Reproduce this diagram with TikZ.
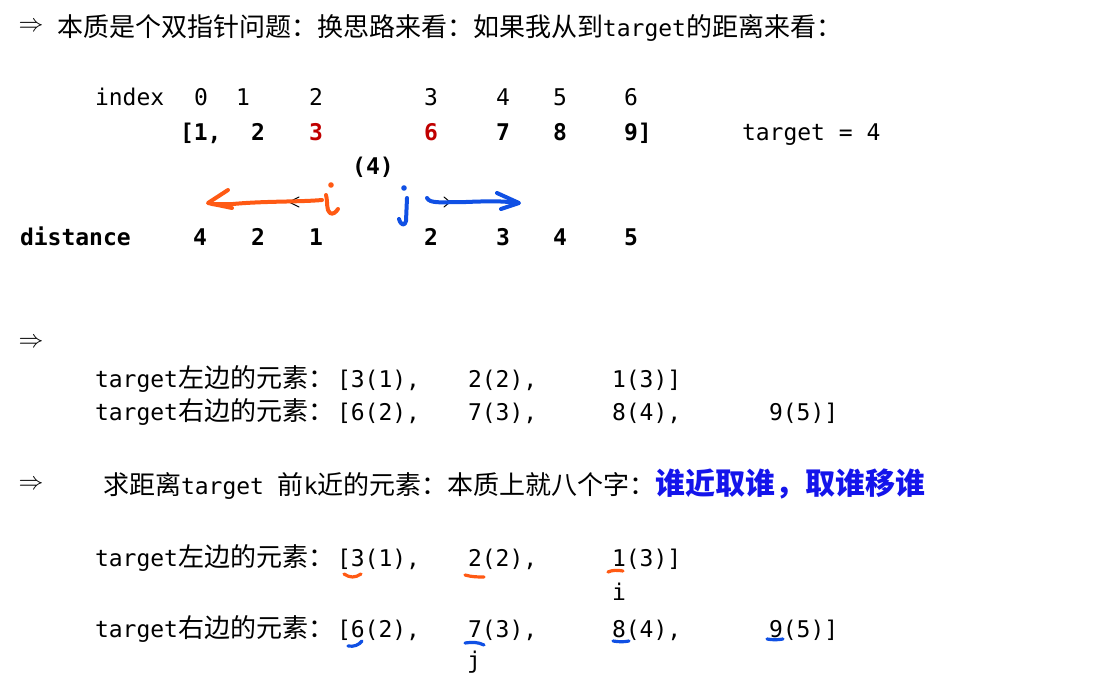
\documentclass[tikz,border=0pt]{standalone}
\usepackage{fontspec}
\newfontfamily\cjk{Noto Sans CJK SC}
\newfontfamily\mono{DejaVu Sans Mono}
\newcommand\cz{\fontsize{26}{30}\selectfont\cjk}
\newcommand\mz{\fontsize{23}{28}\selectfont\mono}
\definecolor{numred}{RGB}{192,0,0}
\definecolor{penorange}{RGB}{255,90,20}
\definecolor{penblue}{RGB}{16,80,228}
\definecolor{keyblue}{RGB}{20,20,235}
\tikzset{
  txt/.style={anchor=base west, inner sep=0pt, outer sep=0pt, font=\mz},
  num/.style={anchor=base, inner sep=0pt, outer sep=0pt, font=\mz\bfseries},
  idx/.style={anchor=base, inner sep=0pt, outer sep=0pt, font=\mz},
  arr/.style={anchor=center, inner sep=0pt, font=\fontsize{23}{26}\selectfont},
  pen/.style={line width=4pt, line cap=round, line join=round},
  thinpen/.style={line width=1pt, line cap=round, line join=round},
  underln/.style={line width=3.2pt, line cap=round},
}
\begin{document}
\begin{tikzpicture}[x=1pt,y=-1pt]
\useasboundingbox (0,0) rectangle (1114,685);
\fill[white] (0,0) rectangle (1114,685);

% line 1
\node[arr] (a1) at (31,27) {$\Rightarrow$};
\node[txt] (l1) at (57,37) {\cz 本质是个双指针问题：换思路来看：如果我从到\mz target\cz 的距离来看：};

% index row
\node[txt] (idxlabel) at (95,105) {index};
\node[idx] (i0) at (201,105) {0};
\node[idx] (i1) at (243,105) {1};
\node[idx] (i2) at (316,105) {2};
\node[idx] (i3) at (431,105) {3};
\node[idx] (i4) at (503,105) {4};
\node[idx] (i5) at (560,105) {5};
\node[idx] (i6) at (631,105) {6};

% values row
\node[txt, font=\mz\bfseries] (v0) at (180,140) {[1,};
\node[num] (v1) at (258,140) {2};
\node[num, text=numred] (v2) at (316,140) {3};
\node[num, text=numred] (v3) at (431,140) {6};
\node[num] (v4) at (503,140) {7};
\node[num] (v5) at (560,140) {8};
\node[txt, font=\mz\bfseries] (v6) at (624,140) {9]};
\node[txt] (tgt) at (742,140) {target = 4};

\node[num] (four) at (373,174) {(4)};

% distance row
\node[txt, font=\mz\bfseries] (dist) at (20,245) {distance};
\node[num] (d0) at (200,245) {4};
\node[num] (d1) at (258,245) {2};
\node[num] (d2) at (316,245) {1};
\node[num] (d3) at (431,245) {2};
\node[num] (d4) at (503,245) {3};
\node[num] (d5) at (560,245) {4};
\node[num] (d6) at (631,245) {5};

% hand-drawn i and left arrow
\draw[thinpen] (299,197) -- (289,202) -- (299,207);
\draw[pen, penorange] (322,200) .. controls (300,202) and (265,201) .. (233,204) -- (212,204);
\draw[pen, penorange] (228,190) -- (208,203) -- (232,208);
\fill[penorange] (331,185) circle (2.8);
\draw[pen, penorange] (326,195) .. controls (328,203) and (326,210) .. (330,213) .. controls (333,215) and (336,212) .. (338,209);

% hand-drawn j and right arrow
\fill[penblue] (404,188) circle (2.8);
\draw[pen, penblue] (407,198) -- (406,221) .. controls (405,226) and (401,226) .. (399,219);
\draw[thinpen] (444,197) -- (450,202) -- (444,207);
\draw[pen, penblue] (427,198) .. controls (430,204) and (442,202) .. (466,202) .. controls (490,201) and (505,201) .. (517,203);
\draw[pen, penblue] (497,193) -- (519,203) -- (501,209);

% section 2
\node[arr] (a2) at (31,343) {$\Rightarrow$};
\node[txt] (la) at (95,387) {target\cz 左边的元素：};
\node[txt] (la1) at (337,387) {[3(1),};
\node[txt] (la2) at (468,387) {2(2),};
\node[txt] (la3) at (612,387) {1(3)]};
\node[txt] (lb) at (95,420) {target\cz 右边的元素：};
\node[txt] (lb1) at (337,420) {[6(2),};
\node[txt] (lb2) at (468,420) {7(3),};
\node[txt] (lb3) at (612,420) {8(4),};
\node[txt] (lb4) at (769,420) {9(5)]};

% section 3
\node[arr] (a3) at (31,485) {$\Rightarrow$};
\node[txt] (l3) at (103,494) {\cz 求距离\mz target \cz 前\mz k\cz 近的元素：本质上就八个字：{\fontsize{30}{34}\selectfont\cjk\bfseries\color{keyblue}谁近取谁，取谁移谁}};

\node[txt] (lc) at (95,566) {target\cz 左边的元素：};
\node[txt] (lc1) at (337,566) {[3(1),};
\node[txt] (lc2) at (468,566) {2(2),};
\node[txt] (lc3) at (612,566) {1(3)]};
\node[idx] (iptr) at (619,600) {i};
\node[txt] (ld) at (95,637) {target\cz 右边的元素：};
\node[txt] (ld1) at (337,637) {[6(2),};
\node[txt] (ld2) at (468,637) {7(3),};
\node[txt] (ld3) at (612,637) {8(4),};
\node[txt] (ld4) at (769,637) {9(5)]};
\node[idx] (jptr) at (474,668) {j};

% underline marks
\draw[underln, penorange] (344,574) .. controls (350,578) and (355,578) .. (361,574);
\draw[underln, penorange] (465,575) .. controls (472,577) and (478,577) .. (484,577);
\draw[underln, penorange] (608,572) .. controls (612,570) and (618,570) .. (623,571);
\draw[underln, penblue] (348,646) .. controls (354,647) and (359,645) .. (362,641);
\draw[underln, penblue] (465,643) .. controls (472,642) and (478,642) .. (484,645);
\draw[underln, penblue] (613,641) .. controls (619,642) and (624,642) .. (629,641);
\draw[underln, penblue] (767,639) .. controls (772,640) and (778,640) .. (783,639);
\end{tikzpicture}
\end{document}
